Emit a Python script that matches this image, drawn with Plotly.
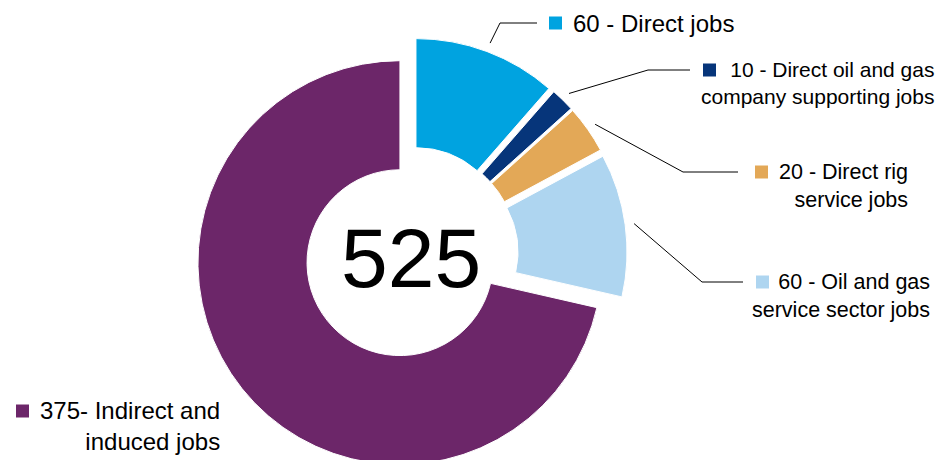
import math
import plotly.graph_objects as go

# ---- data ----
categories = ["Direct jobs", "Direct oil and gas company supporting jobs",
              "Direct rig service jobs", "Oil and gas service sector jobs",
              "Indirect and induced jobs"]
values = [60, 10, 20, 60, 375]
label_texts = ["60 - Direct jobs",
               "10 - Direct oil and gas<br>company supporting jobs",
               "20 - Direct rig<br>service jobs",
               "60 - Oil and gas<br>service sector jobs",
               "375- Indirect and<br>induced jobs"]
colors = ["#00A3E0", "#06357A", "#E3A857", "#AED5F0", "#6C2669"]
center_text = str(sum(values))

# ---- geometry (pixels) ----
W, H = 936, 470          # figure slightly taller than the 460 view; bottom is clipped as in the reference
VIEW_H = 460
PULL = 0.07
R_TARGET = 202
CX_PX = 411
box_h = R_TARGET * (2 + 2 * PULL)
DOM_Y = [0.0, box_h / H]
R = box_h / (2 + 2 * PULL)
CY_PX = H - box_h / 2
half_w = box_h / 2 / W
DOM_X = [CX_PX / W - half_w - 0.001, CX_PX / W + half_w + 0.001]


def px(x, y):
    return x / W, 1 - y / H


fig = go.Figure(go.Pie(
    labels=categories, values=values, sort=False, direction="clockwise",
    rotation=0, hole=0.46, pull=[PULL] * len(values),
    marker=dict(colors=colors, line=dict(color="white", width=1)),
    textinfo="none", hoverinfo="label+value", showlegend=False,
    domain=dict(x=DOM_X, y=DOM_Y),
))

# label layout: (square x, square center y, text anchor x, xanchor, elbow, line end, font size, line gap)
label_layout = [
    (549, 23, 571, "left", (500, 23), (537, 23), 24, 0),
    (703, 70, 936, "right", (648, 70), (690, 70), 21, 26),
    (755, 172, 910, "right", (683, 172), (738, 172), 21.5, 27),
    (756, 282, 932, "right", (702, 282), (743, 282), 21.5, 27),
    (16, 411, 222, "right", None, None, 24, 29),
]

total = sum(values)
cum = 0
shapes = []
annotations = []
for i, v in enumerate(values):
    mid = (cum + v / 2) / total * 2 * math.pi
    cum += v
    sqx, sqy, tx, xa, elbow, end, fs, gap = label_layout[i]
    x0, y0 = px(sqx, sqy - 6.5)
    x1, y1 = px(sqx + 13, sqy + 6.5)
    shapes.append(dict(type="rect", xref="paper", yref="paper", x0=x0, x1=x1,
                       y0=y1, y1=y0, fillcolor=colors[i], line=dict(width=0)))
    nlines = label_texts[i].count("<br>") + 1
    ty = sqy + (nlines - 1) * gap / 2
    ax, ay = px(tx, ty)
    annotations.append(dict(text=label_texts[i], x=ax, y=ay, xref="paper", yref="paper",
                            xanchor=xa, yanchor="middle", align="right", showarrow=False,
                            font=dict(family="Arial, Liberation Sans", size=fs, color="#000000")))
    if elbow is not None:
        rr = R * (1 + PULL) + 9
        sx = CX_PX + rr * math.sin(mid)
        sy = CY_PX - rr * math.cos(mid)
        pts = [px(sx, sy), px(*elbow), px(*end)]
        path = "M {} {} L {} {} L {} {}".format(*[c for p in pts for c in p])
        shapes.append(dict(type="path", xref="paper", yref="paper", path=path,
                           line=dict(color="black", width=1)))

cx_p, cy_p = px(CX_PX, CY_PX + 4)
annotations.append(dict(text=center_text, x=cx_p, y=cy_p, xref="paper", yref="paper",
                        xanchor="center", yanchor="middle", showarrow=False,
                        font=dict(family="Arial, Liberation Sans", size=84, color="#000000")))

fig.update_layout(width=W, height=H, margin=dict(l=0, r=0, t=0, b=0),
                  paper_bgcolor="white", plot_bgcolor="white",
                  shapes=shapes, annotations=annotations)

post = ("document.documentElement.style.margin='0';"
        "document.body.style.margin='0';"
        "var w=document.getElementById('{plot_id}').parentElement;"
        "w.style.height='%dpx';w.style.overflow='hidden';" % VIEW_H)
fig.write_html("out.html", post_script=post, config={"displayModeBar": False})
